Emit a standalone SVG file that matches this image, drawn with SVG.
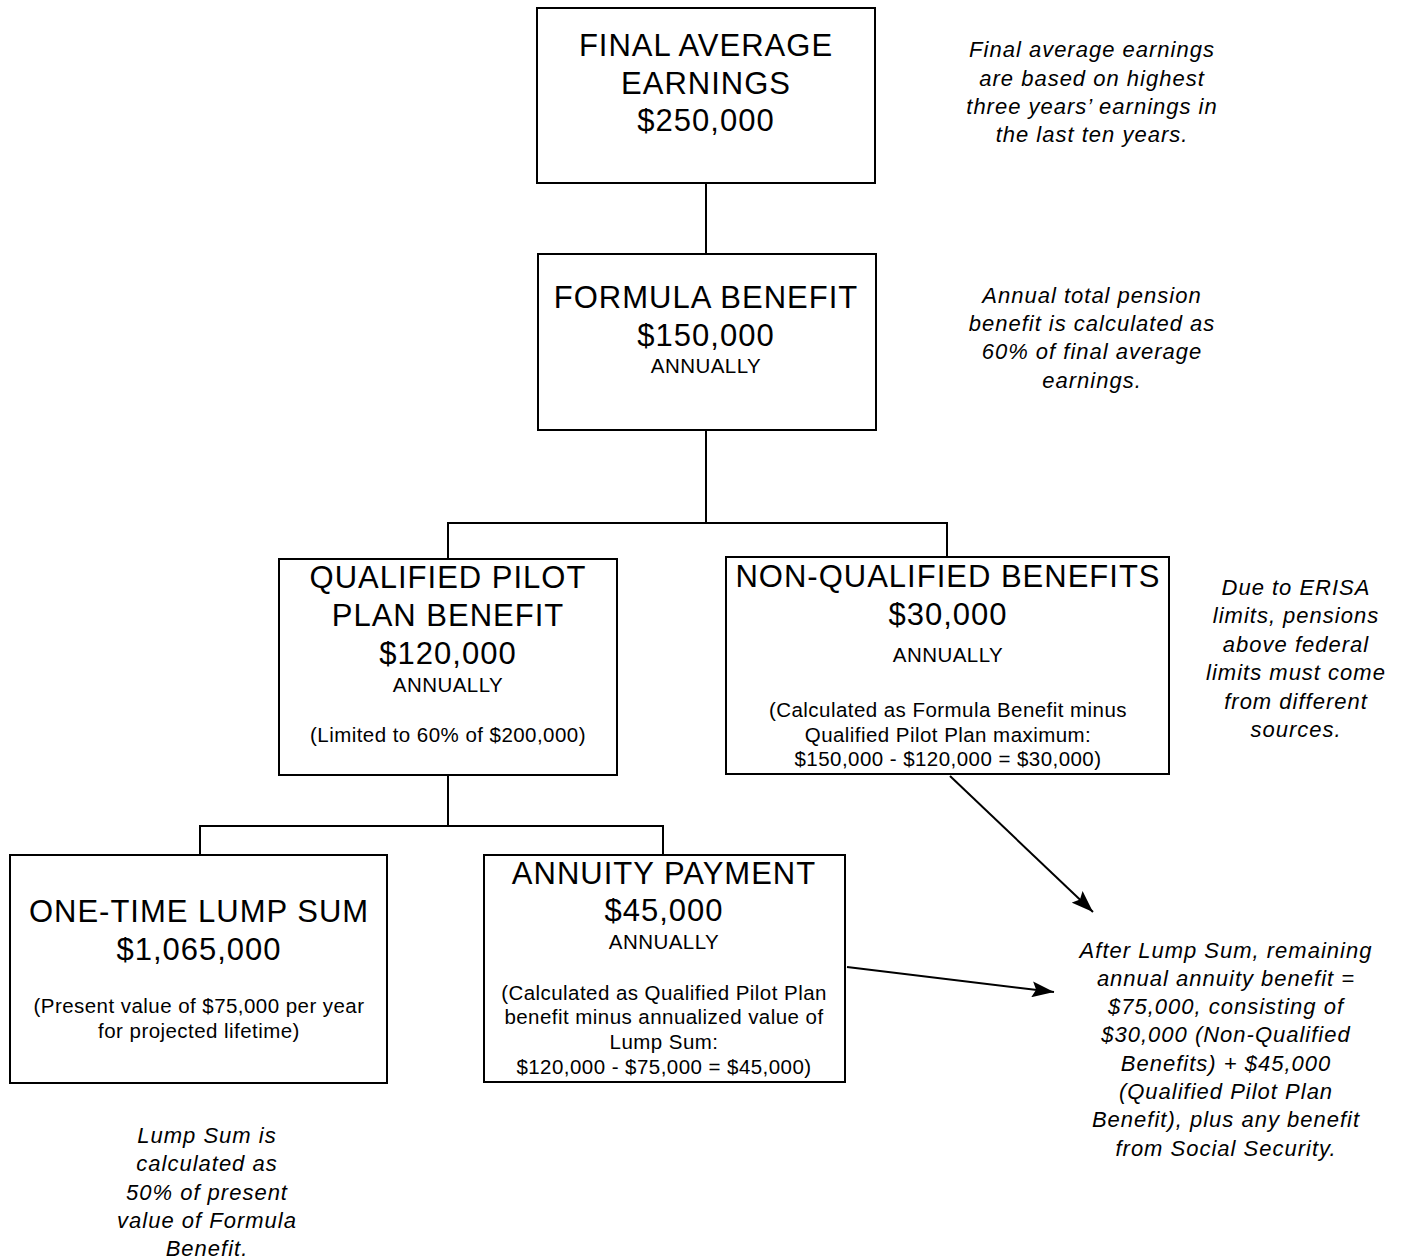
<svg xmlns="http://www.w3.org/2000/svg" width="1402" height="1260" viewBox="0 0 1402 1260">
<style>
.box{fill:#fff;stroke:#000;stroke-width:2}
.t{font-family:"Liberation Sans",Arial,sans-serif;fill:#000;text-anchor:middle}
.big{font-size:31px;letter-spacing:1px}
.sm{font-size:20.5px;letter-spacing:0.45px}
.note{font-family:"Liberation Sans",Arial,sans-serif;font-style:italic;font-size:22px;letter-spacing:1px;fill:#000;text-anchor:middle}
.c{stroke:#000;stroke-width:2;fill:none}
</style>
<defs>
<marker id="ah" viewBox="0 0 22 16" refX="22" refY="8" markerWidth="22" markerHeight="16" markerUnits="userSpaceOnUse" orient="auto">
<polygon points="0,0 22,8 0,16 4,8" fill="#000"/>
</marker>
</defs>
<rect width="1402" height="1260" fill="#fff"/>
<g id="connectors">
<line class="c" x1="706" y1="183" x2="706" y2="254"/>
<polyline class="c" points="706,430 706,523"/>
<polyline class="c" points="448,559 448,523 947,523 947,557"/>
<polyline class="c" points="448,775 448,826"/>
<polyline class="c" points="200,855 200,826 663,826 663,855"/>
<line class="c" x1="950" y1="776" x2="1093" y2="912" marker-end="url(#ah)"/>
<line class="c" x1="847" y1="967" x2="1054" y2="992" marker-end="url(#ah)"/>
</g>
<g id="final">
<rect class="box" x="537" y="8" width="338" height="175"/>
<text class="t big" x="706" y="56">FINAL AVERAGE</text>
<text class="t big" x="706" y="94">EARNINGS</text>
<text class="t big" x="706" y="131">$250,000</text>
</g>
<g id="formula">
<rect class="box" x="538" y="254" width="338" height="176"/>
<text class="t big" x="706" y="308">FORMULA BENEFIT</text>
<text class="t big" x="706" y="346">$150,000</text>
<text class="t sm" x="706" y="373">ANNUALLY</text>
</g>
<g id="qualified">
<rect class="box" x="279" y="559" width="338" height="216"/>
<text class="t big" x="448" y="588">QUALIFIED PILOT</text>
<text class="t big" x="448" y="626">PLAN BENEFIT</text>
<text class="t big" x="448" y="664">$120,000</text>
<text class="t sm" x="448" y="692">ANNUALLY</text>
<text class="t sm" x="448" y="742">(Limited to 60% of $200,000)</text>
</g>
<g id="nonqualified">
<rect class="box" x="726" y="557" width="443" height="217"/>
<text class="t big" x="948" y="587">NON-QUALIFIED BENEFITS</text>
<text class="t big" x="948" y="625">$30,000</text>
<text class="t sm" x="948" y="662">ANNUALLY</text>
<text class="t sm" x="948" y="717">(Calculated as Formula Benefit minus</text>
<text class="t sm" x="948" y="742">Qualified Pilot Plan maximum:</text>
<text class="t sm" x="948" y="766">$150,000 - $120,000 = $30,000)</text>
</g>
<g id="lumpsum">
<rect class="box" x="10" y="855" width="377" height="228"/>
<text class="t big" x="199" y="922">ONE-TIME LUMP SUM</text>
<text class="t big" x="199" y="960">$1,065,000</text>
<text class="t sm" x="199" y="1013">(Present value of $75,000 per year</text>
<text class="t sm" x="199" y="1038">for projected lifetime)</text>
</g>
<g id="annuity">
<rect class="box" x="484" y="855" width="361" height="227"/>
<text class="t big" x="664" y="884">ANNUITY PAYMENT</text>
<text class="t big" x="664" y="921">$45,000</text>
<text class="t sm" x="664" y="949">ANNUALLY</text>
<text class="t sm" x="664" y="1000">(Calculated as Qualified Pilot Plan</text>
<text class="t sm" x="664" y="1024">benefit minus annualized value of</text>
<text class="t sm" x="664" y="1049">Lump Sum:</text>
<text class="t sm" x="664" y="1074">$120,000 - $75,000 = $45,000)</text>
</g>
<g id="note1">
<text class="note" x="1092" y="57">Final average earnings</text>
<text class="note" x="1092" y="86">are based on highest</text>
<text class="note" x="1092" y="114">three years’ earnings in</text>
<text class="note" x="1092" y="142">the last ten years.</text>
</g>
<g id="note2">
<text class="note" x="1092" y="303">Annual total pension</text>
<text class="note" x="1092" y="331">benefit is calculated as</text>
<text class="note" x="1092" y="359">60% of final average</text>
<text class="note" x="1092" y="388">earnings.</text>
</g>
<g id="note3">
<text class="note" x="1296" y="595">Due to ERISA</text>
<text class="note" x="1296" y="623">limits, pensions</text>
<text class="note" x="1296" y="652">above federal</text>
<text class="note" x="1296" y="680">limits must come</text>
<text class="note" x="1296" y="709">from different</text>
<text class="note" x="1296" y="737">sources.</text>
</g>
<g id="note4">
<text class="note" x="1226" y="958">After Lump Sum, remaining</text>
<text class="note" x="1226" y="986">annual annuity benefit =</text>
<text class="note" x="1226" y="1014">$75,000, consisting of</text>
<text class="note" x="1226" y="1042">$30,000 (Non-Qualified</text>
<text class="note" x="1226" y="1071">Benefits) + $45,000</text>
<text class="note" x="1226" y="1099">(Qualified Pilot Plan</text>
<text class="note" x="1226" y="1127">Benefit), plus any benefit</text>
<text class="note" x="1226" y="1156">from Social Security.</text>
</g>
<g id="note5">
<text class="note" x="207" y="1143">Lump Sum is</text>
<text class="note" x="207" y="1171">calculated as</text>
<text class="note" x="207" y="1200">50% of present</text>
<text class="note" x="207" y="1228">value of Formula</text>
<text class="note" x="207" y="1256">Benefit.</text>
</g>
</svg>
